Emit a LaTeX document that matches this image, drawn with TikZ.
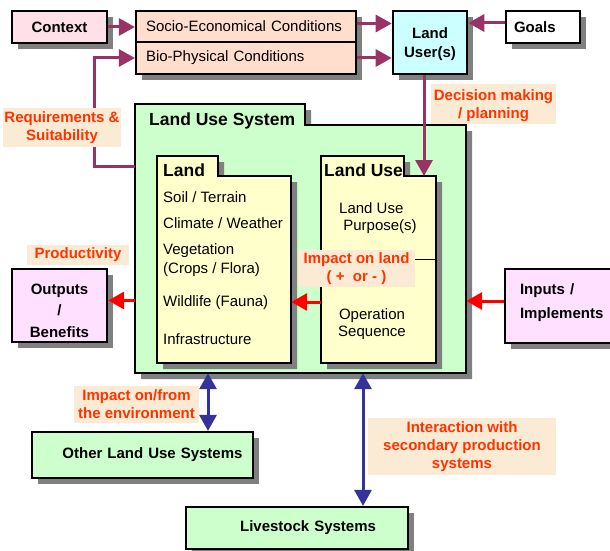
\documentclass[tikz,border=0pt]{standalone}
\usepackage[RGB]{xcolor}
\usepackage{fontspec}
\setmainfont{Liberation Sans}
\usetikzlibrary{arrows.meta,shadows,fit}
\definecolor{C}{RGB}{255,224,232}
\definecolor{S}{RGB}{255,222,206}
\definecolor{U}{RGB}{204,255,255}
\definecolor{O}{RGB}{255,224,255}
\definecolor{G}{RGB}{204,255,204}
\definecolor{Y}{RGB}{255,255,204}
\definecolor{N}{RGB}{252,235,212}
\definecolor{T}{RGB}{255,51,0}
\definecolor{P}{RGB}{153,51,102}
\definecolor{B}{RGB}{51,51,153}
\definecolor{D}{RGB}{128,128,128}
% folder: name, fill, left, tab top, tab right, body top, right, bottom
\newcommand{\folder}[8]{
\fill[D] (#3+6,#4+6) -| (#5+6,#6+6) -| (#7+6,#8+6) -| (#3+6,#4+6) -- cycle;
\filldraw[fill=#2, line width=1.2pt] (#3,#4) -| (#5,#6) -| (#7,#8) -| (#3,#4) -- cycle;
\node[fit={(#3,#4) (#7,#8)}, inner sep=0pt] (#1) {};
\coordinate (#1 body) at (#7,#6);
}

\begin{document}
\begin{tikzpicture}[x=1pt,y=-1pt,
  every node/.style={font=\fontsize{15}{18}\selectfont},
  strong/.style={font=\fontsize{15}{18}\selectfont\bfseries},
  box/.style={draw, line width=2.2pt, inner sep=0pt, align=center,
    general shadow={fill=D, shadow xshift=6pt, shadow yshift=-6pt}},
  note/.style={fill=N, text=T, strong, align=center, inner xsep=3pt, inner ysep=2pt},
  head/.style={font=\fontsize{17.5}{21}\selectfont\bfseries, anchor=west, inner sep=0pt},
  item/.style={anchor=west, inner sep=0pt, align=left},
  parrow/.style={draw=P, line width=3pt, -{Triangle[length=16pt,width=17pt]}},
  rarrow/.style={draw=red, line width=3pt, -{Triangle[length=16pt,width=17pt]}},
  barrow/.style={draw=B, line width=3pt, {Triangle[length=16pt,width=17pt]}-{Triangle[length=16pt,width=17pt]}}]
\useasboundingbox (0,0) rectangle (610,551);

% top row
\node[box, fill=C, minimum width=95pt, minimum height=32pt, strong] (ctx) at (59.5,27) {Context};
\node[box, fill=S, minimum width=220pt, minimum height=31pt, text width=200pt, align=left] (socio) at (246,26.5) {Socio-Economical Conditions};
\node[box, fill=S, minimum width=220pt, minimum height=32pt, text width=200pt, align=left] (bio) at (246,58) {Bio-Physical Conditions};
\node[box, fill=U, line width=2.6pt, minimum width=74pt, minimum height=63pt, strong] (user) at (430,42.5) {\rule{0pt}{15pt}Land\\[1pt]User(s)};
\node[box, fill=white, minimum width=74pt, minimum height=32pt, text width=58pt, align=left, strong] (goals) at (543,27) {Goals};

% land use system
\folder{lus}{G}{135}{104}{305}{125}{466}{373}
\folder{land}{Y}{157}{156}{218}{176}{291}{363}
\folder{lu}{Y}{321}{156}{404}{176}{436}{363}
\node[head] (lustitle) at (149,121) {Land Use System};
\node[head] (landtitle) at (163,170) {Land};
\node[head] (lutitle) at (324,170) {Land Use};
\node[item] (soil) at (163,197) {Soil / Terrain};
\node[item] (climate) at (163,223) {Climate / Weather};
\node[item] (veg) at (163,260.5) {Vegetation\\[1pt](Crops / Flora)};
\node[item] (wild) at (163,303) {Wildlife (Fauna)};
\node[item] (infra) at (163,339) {Infrastructure};
\node[item] (purpose) at (339,218.5) {Land Use\\[-1pt]\ Purpose(s)};
\node[align=center, inner sep=0pt] (oper) at (372,324.5) {Operation\\[-1pt]Sequence};

% side and bottom boxes
\node[box, fill=O, minimum width=95pt, minimum height=73pt, strong] (out) at (59.5,305.5) {\rule{0pt}{21pt}Outputs\\[3.5pt]/\\[3.5pt]Benefits};
\node[box, fill=O, minimum width=115pt, minimum height=74pt, text width=85pt, align=left, strong] (inp) at (562.5,306) {Inputs /\\[6pt]Implements\rule[-10pt]{0pt}{10pt}};
\node[box, fill=G, minimum width=221pt, minimum height=46pt, text width=200pt, align=right, strong] (other) at (142.5,455) {Other Land Use Systems};
\node[box, fill=G, minimum width=222pt, minimum height=42pt, text width=158pt, align=right, strong] (live) at (297,528) {Livestock Systems};

% connectors
\draw[parrow] (ctx.east) -- (ctx.east -| socio.west);
\draw[parrow] ([yshift=3pt]socio.east) -- ([yshift=3pt]socio.east -| user.west);
\draw[parrow] (bio.east) -- (bio.east -| user.west);
\draw[parrow] ([yshift=4pt]goals.west) -- ([yshift=4pt]goals.west -| user.east);
\draw[parrow] ([xshift=-6pt]user.south) -- ([xshift=-6pt]user.south |- lu body);
\coordinate (reqbend) at (94,166);
\draw[parrow] (reqbend -| lus.west) -- (reqbend) |- (bio.west);
\coordinate (outy) at ([yshift=5pt]out.east);
\draw[rarrow] (outy -| lus.west) -- (outy);
\coordinate (inpy) at ([yshift=5pt]inp.west);
\draw[rarrow] (inpy) -- (inpy -| lus.east);
\coordinate (imp) at (306,302);
\draw[rarrow] (imp -| lu.west) -- (imp -| land.east);
\coordinate (envx) at (208,0);
\coordinate (livx) at (363,0);
\draw[barrow] (envx |- lus.south) -- (envx |- other.north);
\draw[barrow] (livx |- lus.south) -- (livx |- live.north);

% labels
\node[note, minimum width=125pt, minimum height=38pt] (decision) at (493.5,104) {\rule{0pt}{14pt}Decision making\\/ planning};
\node[note, inner xsep=1pt, minimum height=39pt] (req) at (62,127.5) {Requirements \&\\Suitability};
\node[note, minimum width=102pt, minimum height=20pt] (prod) at (78,255) {Productivity};
\node[note, minimum width=117pt, minimum height=37pt] (impland) at (356.5,268.5) {Impact on land\\( +~~or - )};
\node[note, minimum width=125pt, minimum height=37pt] (impenv) at (136.5,404.5) {Impact on/from\\the environment};
\node[note, minimum width=188pt, minimum height=57pt] (inter) at (462,446.5) {Interaction with\\secondary production\\systems};
\draw[line width=0.8pt] ([yshift=9pt]impland.east) -- ([yshift=9pt]impland.east -| lu.east);
\end{tikzpicture}
\end{document}
